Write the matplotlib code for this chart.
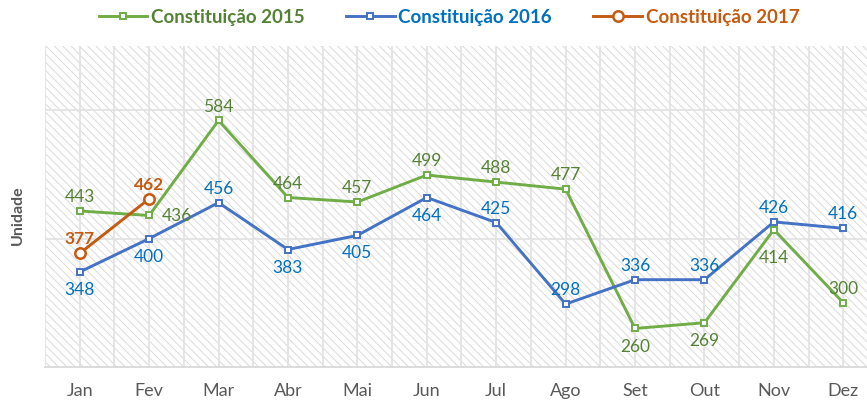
import matplotlib.pyplot as plt
from matplotlib.patches import Rectangle
from matplotlib.ticker import MultipleLocator

plt.rcParams['font.family'] = ['Lato', 'DejaVu Sans']
plt.rcParams['hatch.linewidth'] = 0.7

# Months and values per year
months = ['Jan', 'Fev', 'Mar', 'Abr', 'Mai', 'Jun', 'Jul', 'Ago', 'Set', 'Out', 'Nov', 'Dez']
c2015 = [443, 436, 584, 464, 457, 499, 488, 477, 260, 269, 414, 300]
c2016 = [348, 400, 456, 383, 405, 464, 425, 298, 336, 336, 426, 416]
c2017 = [377, 462]

# label placement: 'a' above, 'b' below, 'B' further below, 'r' right
pos2015 = ['a', 'r', 'a', 'a', 'a', 'a', 'a', 'a', 'b', 'b', 'B', 'a']
pos2016 = ['b', 'b', 'a', 'b', 'b', 'b', 'a', 'a', 'a', 'a', 'a', 'a']
pos2017 = ['a', 'a']

fig = plt.figure(figsize=(8.67, 4.02), dpi=100)
ax = fig.add_axes([45 / 867, 1 - 368 / 402, 833 / 867, 321 / 402])

# hatched plot area
ax.add_patch(Rectangle((0, 0), 1, 1, transform=ax.transAxes, facecolor='white',
                       edgecolor='#dadada', hatch='\\\\\\\\', lw=0, zorder=0))

x = list(range(len(months)))
ax.plot(x, c2015, color='#70AD47', lw=2.1, marker='s', ms=4.5, mfc='white', mew=1.4, zorder=3,
        label='Constituição 2015')
ax.plot(x, c2016, color='#4472C4', lw=2.1, marker='s', ms=4.5, mfc='white', mew=1.4, zorder=3,
        label='Constituição 2016')
ax.plot(x[:len(c2017)], c2017, color='#C55A11', lw=2.1, marker='o', ms=7.5, mfc='white', mew=1.8,
        zorder=4, label='Constituição 2017')


def labels(vals, where, color, bold=False):
    for i, (v, p) in enumerate(zip(vals, where)):
        if p == 'a':
            off, ha, va = (0, 5), 'center', 'bottom'
        elif p == 'b':
            off, ha, va = (0, -6.5), 'center', 'top'
        elif p == 'B':
            off, ha, va = (0, -14), 'center', 'top'
        else:
            off, ha, va = (9, 0), 'left', 'center'
        ax.annotate(str(v), (i, v), xytext=off, textcoords='offset points', ha=ha, va=va,
                    color=color, fontsize=12.5, fontweight='bold' if bold else 'normal', zorder=5)


labels(c2015, pos2015, '#548235')
labels(c2016, pos2016, '#0070C0')
labels(c2017, pos2017, '#C55A11', bold=True)

ax.set_xlim(-0.5, 11.5)
ax.set_ylim(200, 700)
ax.set_xticks(x)
ax.set_xticklabels(months)
ax.xaxis.set_minor_locator(MultipleLocator(0.5))
ax.grid(axis='x', which='both', color='#e3e3e3', lw=1.3)
ax.set_yticks([400, 600])
ax.set_yticklabels([])
ax.grid(axis='y', color='#e3e3e3', lw=1.3)
ax.set_axisbelow(True)
ax.tick_params(length=0, which='both', labelsize=13, labelcolor='#595959', pad=11)
for s in ['top', 'left', 'right']:
    ax.spines[s].set_visible(False)
ax.spines['bottom'].set_color('#d9d9d9')
ax.spines['bottom'].set_linewidth(1.3)

fig.text(18 / 867, 1 - 215 / 402, 'Unidade', rotation=90, ha='center', va='center',
         fontsize=11.5, fontweight='bold', color='#595959')

leg = fig.legend(loc='center', bbox_to_anchor=(449 / 867, 1 - 18 / 402), ncol=3, frameon=False,
                 handlelength=2.6, columnspacing=2.2, handletextpad=0.2,
                 prop={'size': 13.5, 'weight': 'bold'})
for t, c in zip(leg.get_texts(), ['#548235', '#0070C0', '#C55A11']):
    t.set_color(c)

fig.savefig('out.png', dpi=100)
